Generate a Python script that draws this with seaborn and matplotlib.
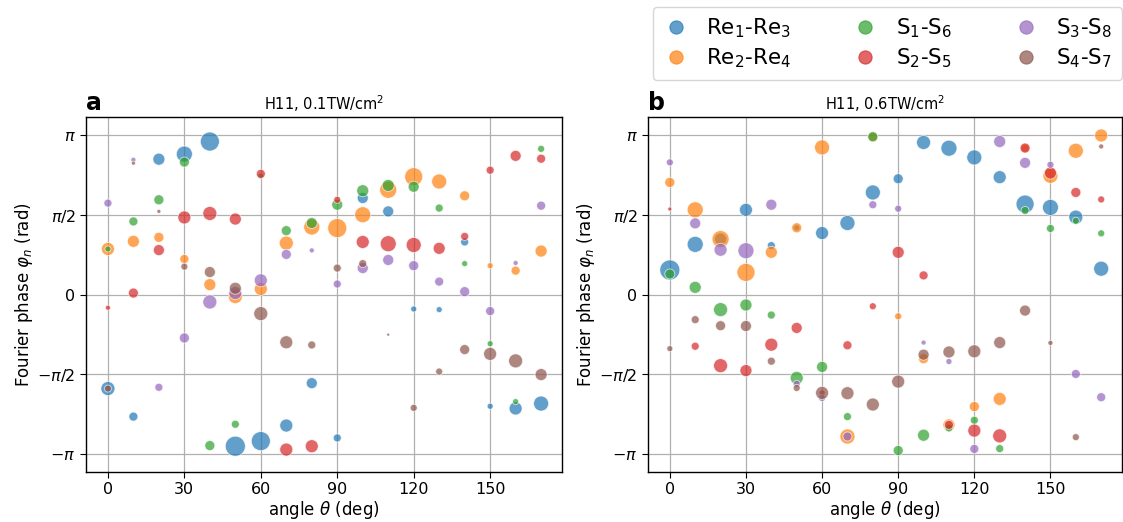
import numpy as np
import pandas as pd
import matplotlib
matplotlib.use("Agg")
import matplotlib.pyplot as plt
from matplotlib.lines import Line2D
import seaborn as sns

# ---------------- data ----------------
angles = [0, 10, 20, 30, 40, 50, 60, 70, 80, 90, 100, 110, 120, 130, 140, 150, 160, 170]
series = ["Re$_1$-Re$_3$", "Re$_2$-Re$_4$", "S$_1$-S$_6$", "S$_2$-S$_5$", "S$_3$-S$_8$", "S$_4$-S$_7$"]
panel_titles = ["H11, 0.1TW/cm$^2$", "H11, 0.6TW/cm$^2$"]
panel_letters = ["a", "b"]

# phase values in units of pi, amplitudes (relative marker diameter)
a_re13_phase = [-0.59, -0.766, 0.851, 0.883, 0.962, -0.952, -0.92, -0.822, -0.556, -0.9, 0.607, 0.523, -0.09, -0.094, 0.331, -0.701, -0.715, -0.684]
a_re13_amp = [14, 9, 12, 16, 19, 20, 19, 13, 11, 8, 11, 11, 6, 6, 8, 6, 13, 15]
a_re24_phase = [0.287, 0.335, 0.36, 0.224, 0.063, -0.012, 0.036, 0.324, 0.425, 0.418, 0.502, 0.659, 0.741, 0.711, 0.621, 0.182, 0.151, 0.274]
a_re24_amp = [13, 12, 10, 9, 12, 14, 13, 14, 16, 19, 16, 17, 18, 15, 10, 6, 9, 12]
a_s16_phase = [0.287, 0.46, 0.596, 0.833, -0.948, -0.814, 0.745, 0.402, 0.45, 0.565, 0.653, 0.686, 0.678, 0.544, 0.195, -0.308, -0.672, 0.916]
a_s16_amp = [6, 9, 10, 10, 10, 8, 6, 10, 11, 11, 12, 12, 11, 8, 6, 6, 6, 7]
a_s25_phase = [-0.082, 0.01, 0.28, 0.485, 0.51, 0.475, 0.759, -0.973, -0.952, 0.596, 0.331, 0.32, 0.312, 0.291, 0.366, 0.782, 0.872, 0.854]
a_s25_amp = [5, 10, 11, 13, 14, 12, 9, 13, 13, 7, 13, 16, 15, 12, 8, 8, 11, 9]
a_s38_phase = [0.575, 0.847, -0.582, -0.272, -0.046, 0.01, 0.09, 0.253, 0.278, 0.067, 0.167, 0.218, 0.182, 0.082, 0.019, -0.103, 0.199, 0.559]
a_s38_amp = [8, 5, 8, 10, 14, 13, 13, 10, 5, 8, 11, 11, 10, 9, 10, 9, 5, 9]
a_s47_phase = [-0.59, 0.826, 0.523, 0.176, 0.142, 0.04, -0.119, -0.299, -0.316, 0.167, 0.195, -0.251, -0.711, -0.483, -0.345, -0.372, -0.416, -0.502]
a_s47_amp = [7, 4, 4, 7, 11, 12, 14, 13, 8, 8, 8, 3, 7, 7, 10, 13, 14, 12]

b_re13_phase = [0.155, 0.316, 0.349, 0.533, 0.308, 0.42, 0.387, 0.45, 0.642, 0.728, 0.956, 0.92, 0.862, 0.738, 0.569, 0.548, 0.487, 0.163]
b_re13_amp = [20, 16, 12, 13, 8, 6, 13, 15, 15, 10, 14, 16, 15, 13, 18, 16, 14, 15]
b_re24_phase = [0.705, 0.533, 0.349, 0.14, 0.266, 0.42, 0.925, -0.891, 0.99, -0.136, -0.402, -0.818, -0.703, -0.655, 0.92, 0.747, 0.904, 1.0]
b_re24_amp = [10, 16, 17, 18, 12, 10, 15, 15, 10, 7, 10, 12, 10, 13, 8, 15, 15, 13]
b_s16_phase = [0.13, 0.046, -0.094, -0.065, -0.128, -0.523, -0.454, -0.766, 0.992, -0.979, -0.883, -0.837, -0.789, -0.967, 0.529, 0.416, 0.464, 0.385]
b_s16_amp = [10, 12, 14, 12, 8, 13, 11, 8, 10, 10, 12, 8, 8, 8, 8, 8, 7, 7]
b_s25_phase = [0.538, -0.324, -0.446, -0.477, -0.314, -0.209, -0.617, -0.318, -0.073, 0.266, 0.121, -0.818, -0.854, -0.887, 0.921, 0.764, 0.642, 0.598]
b_s25_amp = [4, 8, 14, 12, 13, 11, 6, 9, 7, 12, 9, 9, 13, 14, 10, 12, 10, 7]
b_s38_phase = [0.831, 0.448, 0.282, 0.276, 0.565, -0.56, -0.649, -0.891, 0.565, 0.54, -0.301, -0.42, -0.969, 0.962, 0.828, 0.816, -0.498, -0.644]
b_s38_amp = [7, 11, 13, 16, 11, 7, 7, 9, 8, 7, 5, 6, 9, 12, 11, 7, 9, 9]
b_s47_phase = [-0.339, -0.157, -0.195, -0.197, -0.418, -0.586, -0.617, -0.619, -0.69, -0.546, -0.377, -0.36, -0.356, -0.301, -0.1, -0.303, -0.895, 0.931]
b_s47_amp = [6, 8, 10, 11, 8, 7, 13, 13, 13, 13, 11, 12, 13, 12, 11, 5, 7, 5]

panel_a = [(a_re13_phase, a_re13_amp), (a_re24_phase, a_re24_amp), (a_s16_phase, a_s16_amp),
           (a_s25_phase, a_s25_amp), (a_s38_phase, a_s38_amp), (a_s47_phase, a_s47_amp)]
panel_b = [(b_re13_phase, b_re13_amp), (b_re24_phase, b_re24_amp), (b_s16_phase, b_s16_amp),
           (b_s25_phase, b_s25_amp), (b_s38_phase, b_s38_amp), (b_s47_phase, b_s47_amp)]


def make_df(panel):
    rows = []
    for name, (ph, amp) in zip(series, panel):
        for t, p, a in zip(angles, ph, amp):
            rows.append({"angle": t, "phase": p * np.pi, "area": a * a, "pair": name})
    return pd.DataFrame(rows)


# ---------------- plotting ----------------
sns.set_style("ticks")
plt.rcParams["font.family"] = ["DejaVu Sans"]
plt.rcParams["mathtext.fontset"] = "dejavusans"
for key in ["text.color", "axes.labelcolor", "xtick.color", "ytick.color", "axes.edgecolor"]:
    plt.rcParams[key] = "black"

palette = sns.color_palette("tab10", 6)
W, H = 1123, 522
fig = plt.figure(figsize=(W / 100, H / 100), dpi=100)

ax_a = fig.add_axes([86 / W, 50 / H, 476 / W, 355 / H])
ax_b = fig.add_axes([648 / W, 50 / H, 474 / W, 355 / H])

k = 0.72 ** 2
amax = 400
for ax, panel, title, letter in zip([ax_a, ax_b], [panel_a, panel_b], panel_titles, panel_letters):
    df = make_df(panel)
    sns.scatterplot(data=df, x="angle", y="phase", hue="pair", palette=palette,
                    hue_order=series, size="area", size_norm=(0, amax), sizes=(0, amax * k),
                    alpha=0.7, edgecolor="white", linewidth=0.6, legend=False, ax=ax, zorder=3)
    ax.set_xlim(-8.6, 178.2)
    ax.set_ylim(-1.114 * np.pi, 1.116 * np.pi)
    ax.set_xticks([0, 30, 60, 90, 120, 150])
    ax.set_yticks([-np.pi, -np.pi / 2, 0, np.pi / 2, np.pi])
    ax.set_yticklabels([r"$-\pi$", r"$-\pi/2$", "0", r"$\pi/2$", r"$\pi$"])
    ax.tick_params(labelsize=11.5, length=4, color="black")
    ax.grid(True, color="#b0b0b0", linewidth=0.9)
    ax.set_axisbelow(True)
    ax.set_xlabel(r"angle $\theta$ (deg)", fontsize=12, labelpad=1)
    ax.set_ylabel(r"Fourier phase $\varphi_n$ (rad)", fontsize=12, labelpad=2)
    ax.set_title(title, fontsize=10.5, pad=5)
    for sp in ax.spines.values():
        sp.set_color("black")
        sp.set_linewidth(1.0)
    ax.text(0.0, 1.005, letter, transform=ax.transAxes, fontsize=17, fontweight="bold",
            ha="left", va="bottom")

handles = [Line2D([0], [0], marker="o", linestyle="", markersize=9.5, markerfacecolor=c,
                  markeredgecolor=c, markeredgewidth=0.8, alpha=0.7) for c in palette]
fig.legend(handles, series, loc="upper right", bbox_to_anchor=(1122 / W, 1 - 7 / H), ncol=3,
           fontsize=15.5, frameon=True, borderaxespad=0, handletextpad=0.8, columnspacing=2.85,
           labelspacing=0.3, handlelength=1.2, borderpad=0.45, edgecolor="#cccccc")

fig.savefig("out.png", dpi=100)
